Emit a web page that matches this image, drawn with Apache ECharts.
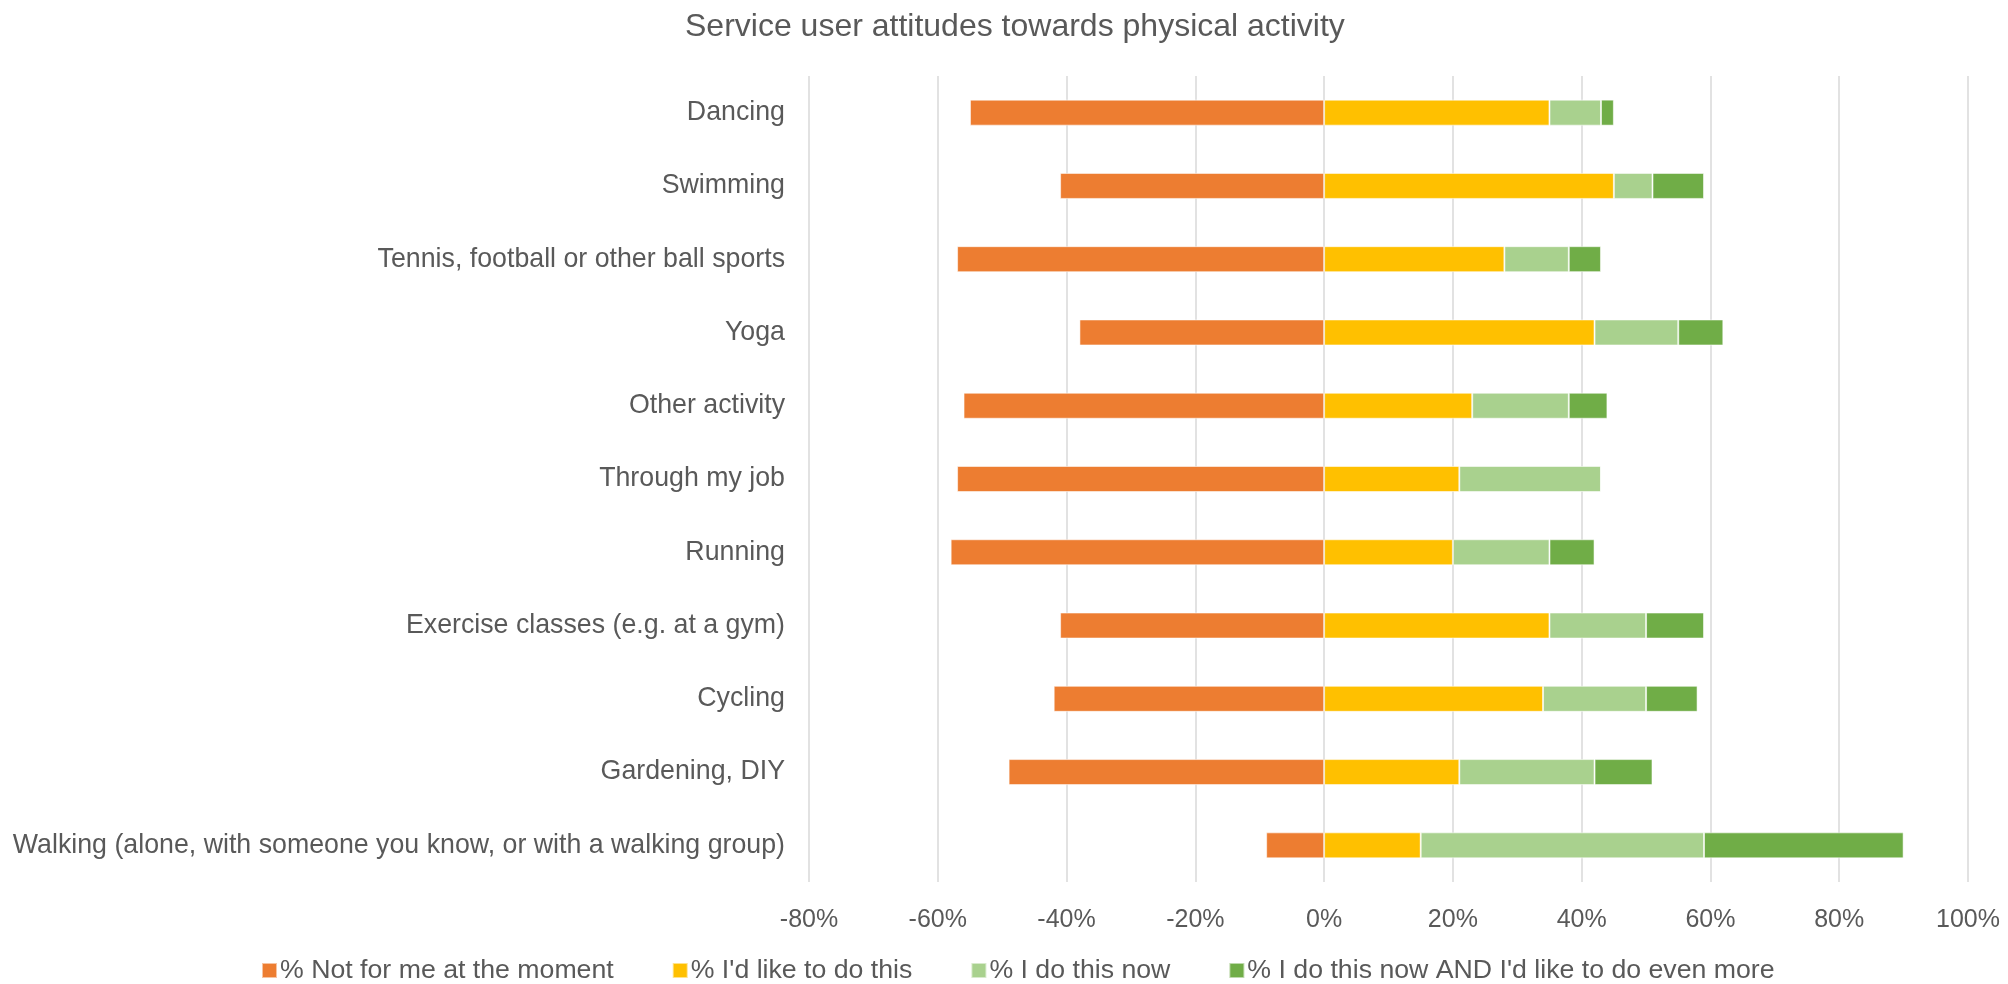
<!DOCTYPE html>
<html>
<head>
<meta charset="utf-8">
<script src="https://cdn.jsdelivr.net/npm/echarts@6/dist/echarts.min.js"></script>
<style>
html,body{margin:0;padding:0;background:#fff;}
#chart{width:2008px;height:984px;}
</style>
</head>
<body>
<div id="chart"></div>
<script>
var categories = ["Dancing","Swimming","Tennis, football or other ball sports","Yoga","Other activity","Through my job","Running","Exercise classes (e.g. at a gym)","Cycling","Gardening, DIY","Walking (alone, with someone you know, or with a walking group)"];
var notForMe = [-55,-41,-57,-38,-56,-57,-58,-41,-42,-49,-9];
var likeToDo = [35,45,28,42,23,21,20,35,34,21,15];
var doNow = [8,6,10,13,15,22,15,15,16,21,44];
var doNowMore = [2,8,5,7,6,0,7,9,8,9,31];
var seriesNames = ["% Not for me at the moment","% I'd like to do this","% I do this now","% I do this now AND I'd like to do even more"];
var colors = ["#ED7D31","#FFC000","#A9D18E","#70AD47"];
var xTicks = {min:-80, max:100, interval:20};

var font = "'Liberation Sans', Arial, sans-serif";
var txt = "#595959";
var chart = echarts.init(document.getElementById('chart'));
function mk(i, data){
  return {
    name: seriesNames[i], type:'bar', stack:'total', data:data,
    barWidth:26,
    itemStyle:{color:colors[i], borderColor:'rgba(255,255,255,0.55)', borderWidth:1},
    emphasis:{disabled:true}
  };
}
chart.setOption({
  animation:false,
  color: colors,
  textStyle:{fontFamily:font},
  title:{text:'Service user attitudes towards physical activity', left:680, top:6,
    textStyle:{fontSize:32, fontWeight:'normal', color:txt, fontFamily:font}},
  legend:{left:256, top:952, itemWidth:15, itemHeight:15, icon:'rect', itemGap:58,
    textStyle:{fontSize:26.7, color:txt, fontFamily:font, padding:[0,0,0,-2]},
    data:seriesNames},
  grid:{left:809, right:40, top:76, bottom:102, containLabel:false},
  xAxis:{type:'value', min:xTicks.min, max:xTicks.max, interval:xTicks.interval,
    axisLine:{show:false}, axisTick:{show:false},
    splitLine:{show:true, lineStyle:{color:'#D9D9D9', width:1.5}},
    axisLabel:{formatter:'{value}%', fontSize:25, color:txt, margin:26, fontFamily:font}},
  yAxis:{type:'category', data:categories, inverse:true,
    axisLine:{show:false}, axisTick:{show:false},
    axisLabel:{fontSize:26.75, color:txt, margin:24, fontFamily:font}},
  series:[mk(0,notForMe), mk(1,likeToDo), mk(2,doNow), mk(3,doNowMore)]
});
</script>
</body>
</html>
